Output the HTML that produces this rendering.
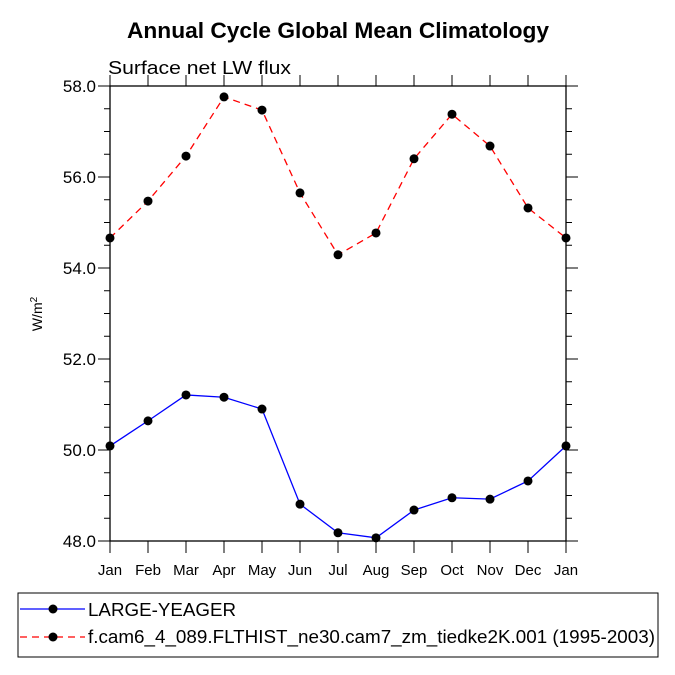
<!DOCTYPE html>
<html><head><meta charset="utf-8"><style>body{margin:0;background:#fff}svg{display:block;font-family:"Liberation Sans",Arial,sans-serif}</style></head>
<body>
<svg id="c" width="675" height="675" viewBox="0 0 675 675">
<text x="127" y="38" font-size="22" font-weight="bold" textLength="422" lengthAdjust="spacingAndGlyphs">Annual Cycle Global Mean Climatology</text>
<text x="108" y="74" font-size="18" textLength="183" lengthAdjust="spacingAndGlyphs">Surface net LW flux</text>
<text transform="translate(42,314) rotate(-90)" text-anchor="middle" font-size="14">W/m<tspan dy="-5" font-size="10">2</tspan></text>
<g id="axes"></g><g id="series"></g>
<g>
<rect x="18" y="593" width="640" height="64" fill="none" stroke="#000" stroke-width="1"/>
<line x1="20" y1="609" x2="85" y2="609" stroke="#0000ff" stroke-width="1.3"/>
<circle cx="53" cy="609" r="4.5" fill="#000"/>
<text x="88" y="616" font-size="18" textLength="148" lengthAdjust="spacingAndGlyphs">LARGE-YEAGER</text>
<line x1="20" y1="637" x2="85" y2="637" stroke="#ff0000" stroke-width="1.3" stroke-dasharray="7,5"/>
<circle cx="53" cy="637" r="4.5" fill="#000"/>
<text x="88" y="643" font-size="18" textLength="567" lengthAdjust="spacingAndGlyphs">f.cam6_4_089.FLTHIST_ne30.cam7_zm_tiedke2K.001 (1995-2003)</text>
</g>
</svg>
<script>
const months=["Jan","Feb","Mar","Apr","May","Jun","Jul","Aug","Sep","Oct","Nov","Dec","Jan"];
const yTicks=[48,50,52,54,56,58];
const blueVals=[50.09,50.64,51.21,51.16,50.90,48.81,48.18,48.07,48.68,48.95,48.92,49.32,50.09];
const redVals=[54.66,55.47,56.46,57.76,57.47,55.65,54.29,54.77,56.40,57.38,56.68,55.32,54.66];
const X0=110,X1=566,Y0=541,Y1=86,YMIN=48,YMAX=58;
const xs=i=>X0+(X1-X0)*i/(months.length-1);
const ys=v=>Y0-(v-YMIN)/(YMAX-YMIN)*(Y0-Y1);
const NS="http://www.w3.org/2000/svg";
function mk(t,a,p){const e=document.createElementNS(NS,t);for(const k in a)e.setAttribute(k,a[k]);p.appendChild(e);return e;}
const ax=document.getElementById('axes'),se=document.getElementById('series');
const fr=mk('rect',{x:X0,y:Y1,width:X1-X0,height:Y0-Y1,fill:'none',stroke:'#000','stroke-width':1.3},ax);


months.forEach((m,i)=>{const x=xs(i);
mk('line',{x1:x,y1:Y0,x2:x,y2:Y0+12,stroke:'#000'},ax);
mk('line',{x1:x,y1:Y1,x2:x,y2:Y1-11,stroke:'#000'},ax);
const t=mk('text',{x:x,y:Y0+34,'text-anchor':'middle','font-size':15},ax);t.textContent=m;

});
for(let v=YMIN;v<=YMAX+1e-9;v+=0.5){const y=ys(v);const maj=Math.abs(v%2)<1e-9;const L=maj?12:6;
mk('line',{x1:X0,y1:y,x2:X0-L,y2:y,stroke:'#000'},ax);
mk('line',{x1:X1,y1:y,x2:X1+L,y2:y,stroke:'#000'},ax);}
yTicks.forEach(v=>{const t=mk('text',{x:X0-14,y:ys(v)+6,'text-anchor':'end','font-size':17},ax);t.textContent=v.toFixed(1);

});
function draw(vals,color,dash,name){
const p=mk('polyline',{points:vals.map((v,i)=>xs(i)+','+ys(v)).join(' '),fill:'none',stroke:color,'stroke-width':1.3,'stroke-dasharray':dash},se);


vals.forEach((v,i)=>{const c=mk('circle',{cx:xs(i),cy:ys(v),r:4.5,fill:'#000'},se);

});}
draw(blueVals,'#0000ff','none','large-yeager');
draw(redVals,'#ff0000','7,5','cam6');
</script>
</body></html>
